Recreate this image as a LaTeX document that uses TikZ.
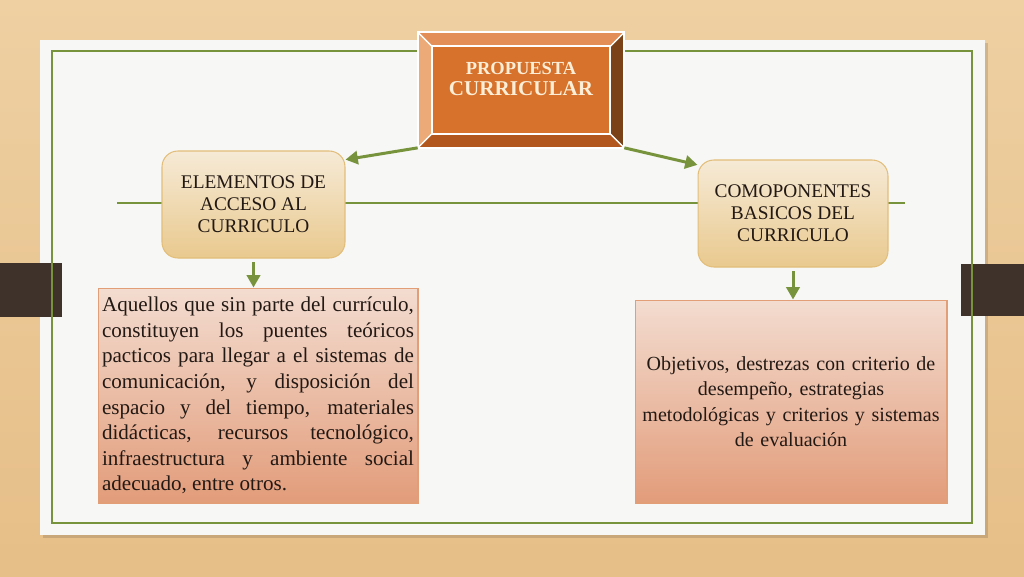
\documentclass[tikz,border=0pt]{standalone}
\usepackage{fontspec}
\setmainfont{Liberation Serif}
\usetikzlibrary{arrows.meta,calc}

\begin{document}
\begin{tikzpicture}[x=0.02cm, y=-0.02cm,
		elembox/.style={draw=elemborder, line width=0.6pt, rounded corners=9pt,
			top color=elemtop, bottom color=elembottom, text=textcolor, align=center,
			minimum width=3.66cm, minimum height=2.14cm, font=\fontsize{11}{12.6}\selectfont},
		textbox/.style={draw=boxborder, line width=0.6pt, top color=boxtop, bottom color=boxbottom,
			text=textcolor, font=\fontsize{12}{14.6}\selectfont},
		greenarrow/.style={draw=framegreen, line width=1.7pt, -{Triangle[length=7pt, width=7.5pt]}}]
		% Define colors
		\definecolor{woodtop}{RGB}{238,208,162}
		\definecolor{woodbottom}{RGB}{230,190,135}
		\definecolor{panelcolor}{RGB}{247,247,245}
		\definecolor{tabcolor}{RGB}{62,50,42}
		\definecolor{framegreen}{RGB}{119,147,60}
		\definecolor{propface}{RGB}{214,114,44}
		\definecolor{proptop}{RGB}{226,142,86}
		\definecolor{propleft}{RGB}{236,170,120}
		\definecolor{propright}{RGB}{122,66,22}
		\definecolor{propbottom}{RGB}{178,88,30}
		\definecolor{titlecolor}{RGB}{252,238,215}
		\definecolor{elemtop}{RGB}{246,234,214}
		\definecolor{elembottom}{RGB}{233,201,142}
		\definecolor{elemborder}{RGB}{226,190,122}
		\definecolor{boxtop}{RGB}{243,220,208}
		\definecolor{boxbottom}{RGB}{226,156,122}
		\definecolor{boxborder}{RGB}{226,158,118}
		\definecolor{textcolor}{RGB}{35,25,20}
		\useasboundingbox (0,0) rectangle (1024,576);
		% Wood background
		\shade[top color=woodtop, bottom color=woodbottom] (0,0) rectangle (1024,576);
		% Paper panel with shadow
		\fill[black, opacity=0.12] (43,43) rectangle (988,538);
		\fill[panelcolor] (40,40) rectangle (985,535);
		% Side tabs
		\fill[tabcolor] (0,263) rectangle (62,317);
		\fill[tabcolor] (961,264) rectangle (1024,316);
		% Green frame and middle line
		\draw[framegreen, line width=0.9pt] (52,51) rectangle (972,523);
		\coordinate (lineleft) at (117,203);
		\coordinate (lineright) at (905,203);
		\draw[framegreen, line width=0.9pt] (lineleft) -- (lineright);
		% Top box (Propuesta curricular)
		\path node[minimum width=4.12cm, minimum height=2.3cm] (prop) at (521,90) {};
		\fill[propface] (prop.north west) rectangle (prop.south east);
		\fill[proptop] (prop.north west) -- (prop.north east) -- ($(prop.north east)+(-14,14)$) -- ($(prop.north west)+(14,14)$) -- cycle;
		\fill[propleft] (prop.north west) -- (prop.south west) -- ($(prop.south west)+(14,-14)$) -- ($(prop.north west)+(14,14)$) -- cycle;
		\fill[propright] (prop.north east) -- (prop.south east) -- ($(prop.south east)+(-14,-14)$) -- ($(prop.north east)+(-14,14)$) -- cycle;
		\fill[propbottom] (prop.south west) -- (prop.south east) -- ($(prop.south east)+(-14,-14)$) -- ($(prop.south west)+(14,-14)$) -- cycle;
		\draw[white, line width=1.2pt] (prop.north west) rectangle (prop.south east);
		\draw[white, line width=1pt] ($(prop.north west)+(14,14)$) rectangle ($(prop.south east)+(-14,-14)$);
		\draw[white, line width=0.8pt] (prop.north west) -- ($(prop.north west)+(14,14)$)
			(prop.north east) -- ($(prop.north east)+(-14,14)$)
			(prop.south west) -- ($(prop.south west)+(14,-14)$)
			(prop.south east) -- ($(prop.south east)+(-14,-14)$);
		\node[text=titlecolor, font=\bfseries, align=center] (proptitle) at (521,79)
			{\fontsize{10.5}{14.5}\selectfont PROPUESTA\\\fontsize{12}{14.5}\selectfont CURRICULAR};
		% Second level boxes
		\node[elembox] (elem) at (253.5,204.5) {ELEMENTOS DE\\ACCESO AL\\CURRICULO};
		\node[elembox, minimum width=3.8cm] (comp) at (793,213.5) {COMOPONENTES\\BASICOS DEL\\CURRICULO};
		% Description boxes
		\node[textbox, text width=6.24cm, inner xsep=0.08cm, minimum height=4.3cm, align=justify] (left) at (258,395.5)
			{Aquellos que sin parte del currículo,\linebreak constituyen los puentes teóricos\linebreak pacticos para llegar a el sistemas de\linebreak comunicación, y disposición del\linebreak espacio y del tiempo, materiales\linebreak didácticas, recursos tecnológico,\linebreak infraestructura y ambiente social\linebreak adecuado, entre otros.};
		\node[textbox, font=\fontsize{11.4}{14.4}\selectfont, text width=6.24cm, inner xsep=0pt, minimum height=4.06cm, align=center] (right) at (791,401.5)
			{Objetivos, destrezas con criterio de\\desempeño, estrategias\\metodológicas y criterios y sistemas\\de evaluación};
		% Arrows
		\draw[greenarrow] (prop.south west) -- (elem.26);
		\draw[greenarrow] (prop.south east) -- (comp.153);
		\draw[greenarrow, shorten <=2pt] (elem.south) -- (elem.south |- left.north);
		\draw[greenarrow, shorten <=2pt] (comp.south) -- (comp.south |- right.north);
	\end{tikzpicture}
\end{document}
